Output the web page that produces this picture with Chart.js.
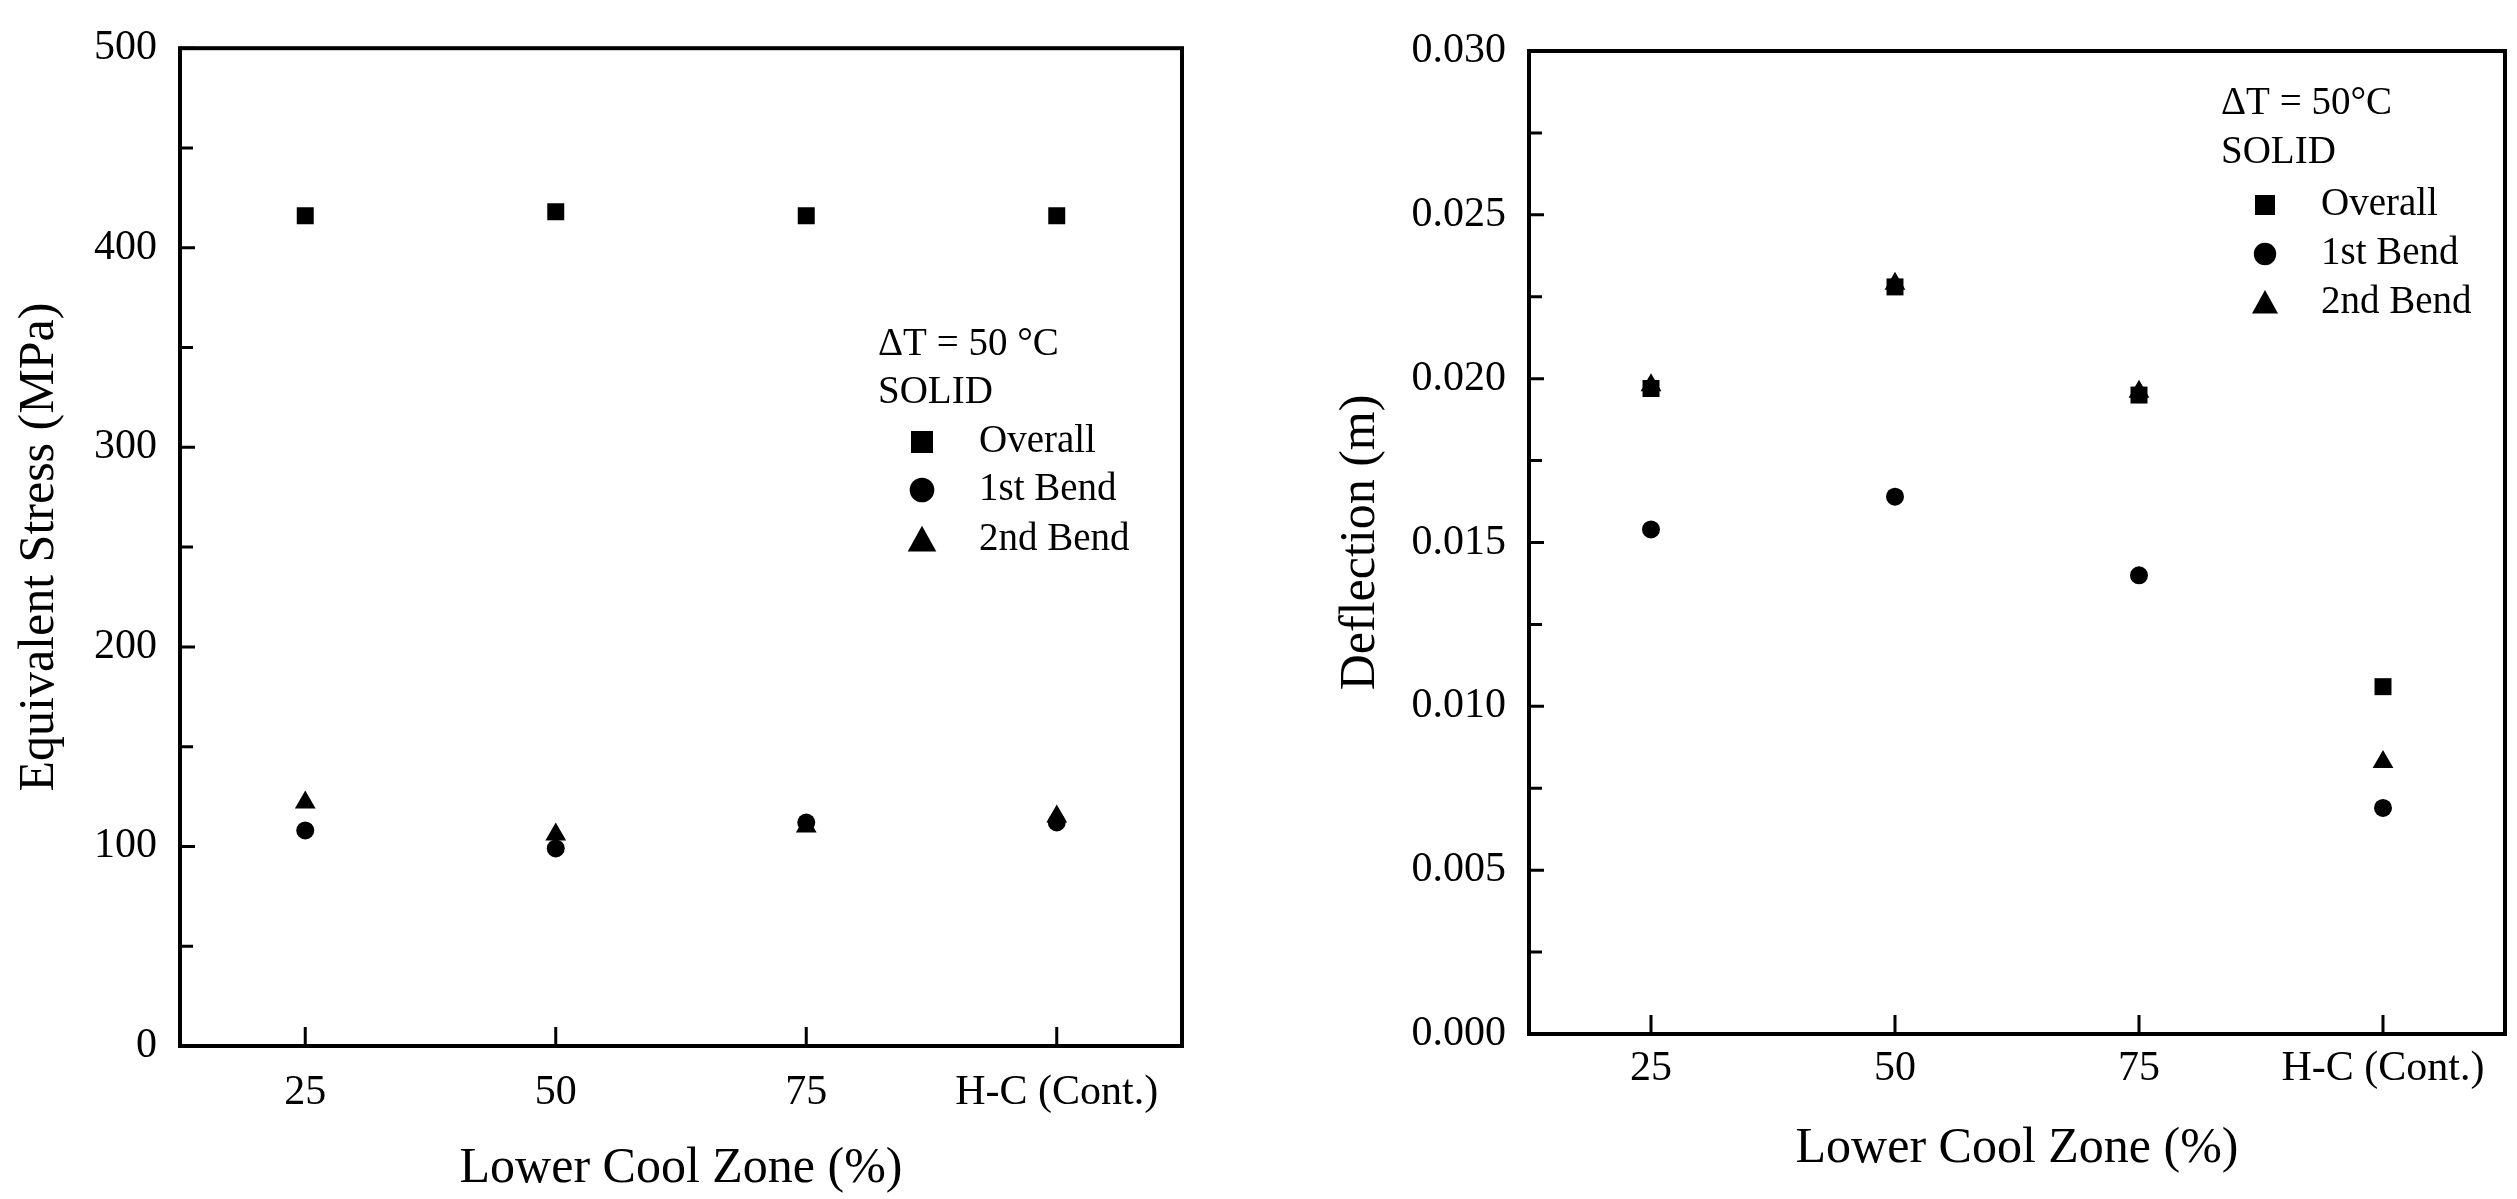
<!DOCTYPE html>
<html>
<head>
<meta charset="utf-8">
<script src="https://cdn.jsdelivr.net/npm/chart.js"></script>
<style>
  html, body { margin: 0; padding: 0; background: #fff; }
  #wrap { position: relative; width: 2517px; height: 1199px; }
  .panel { position: absolute; top: 0; height: 1199px; }
</style>
</head>
<body>
<div id="wrap">
  <div class="panel" style="left:0;width:1260px"><canvas id="stressChart" width="1260" height="1199"></canvas></div>
  <div class="panel" style="left:1260px;width:1257px"><canvas id="deflChart" width="1257" height="1199"></canvas></div>
</div>
<script>
// categories (x axis)
const categories = ['25', '50', '75', 'H-C (Cont.)'];
const seriesNames = ['Overall', '1st Bend', '2nd Bend'];

// equivalent stress (MPa)
const stressOverall = [416, 418, 416, 416];
const stressBend1 = [108, 99, 112, 112];
const stressBend2 = [122, 106, 110, 115];

// deflection (m)
const deflOverall = [0.0197, 0.0228, 0.0195, 0.0106];
const deflBend1 = [0.0154, 0.0164, 0.0140, 0.0069];
const deflBend2 = [0.0198, 0.0229, 0.0196, 0.0083];

// y tick values
const stressTicks = [0, 100, 200, 300, 400, 500];
const deflTicks = [0, 0.005, 0.010, 0.015, 0.020, 0.025, 0.030];

const SERIF = "'Liberation Serif', 'Times New Roman', serif";

// frame + inward ticks (major and minor) drawn from the scales
const framePlugin = {
    id: 'frame',
    afterDraw(chart) {
        const ctx = chart.ctx;
        const a = chart.chartArea;
        const xs = chart.scales.x, ys = chart.scales.y;
        ctx.save();
        ctx.strokeStyle = '#000';
        ctx.lineWidth = 4;
        ctx.strokeRect(a.left, a.top, a.right - a.left, a.bottom - a.top);

        ctx.lineWidth = 3;
        ctx.beginPath();
        // x ticks at each category
        xs.ticks.forEach((t, i) => {
            const px = xs.getPixelForTick(i);
            ctx.moveTo(px, a.bottom);
            ctx.lineTo(px, a.bottom - 19);
        });
        // y ticks, major and half-step minor
        const step = ys.ticks[1].value - ys.ticks[0].value;
        ys.ticks.forEach((t, i) => {
            const py = ys.getPixelForValue(t.value);
            ctx.moveTo(a.left, py);
            ctx.lineTo(a.left + 15, py);
            if (i < ys.ticks.length - 1) {
                const pm = ys.getPixelForValue(t.value + step / 2);
                ctx.moveTo(a.left, pm);
                ctx.lineTo(a.left + 13, pm);
            }
        });
        ctx.stroke();
        ctx.restore();
    }
};

// legend box inside the plot: header lines + symbol rows
const notePlugin = {
    id: 'note',
    afterDraw(chart, args, opts) {
        const ctx = chart.ctx;
        ctx.save();
        ctx.fillStyle = '#000';
        ctx.font = opts.size + 'px ' + SERIF;
        ctx.textBaseline = 'middle';
        ctx.textAlign = 'left';
        opts.header.forEach((txt, i) => {
            ctx.fillText(txt, opts.textX, opts.rows[i]);
        });
        chart.data.datasets.forEach((ds, i) => {
            const y = opts.rows[opts.header.length + i];
            const x = opts.markX;
            const s = opts.mark;
            ctx.beginPath();
            if (ds.pointStyle === 'rect') {
                ctx.rect(x - s / 2, y - s / 2, s, s);
            } else if (ds.pointStyle === 'circle') {
                ctx.arc(x, y, s * 0.56, 0, Math.PI * 2);
            } else {
                const w = s * 1.3;
                ctx.moveTo(x, y - w * 0.5);
                ctx.lineTo(x + w / 2, y + w * 0.4);
                ctx.lineTo(x - w / 2, y + w * 0.4);
                ctx.closePath();
            }
            ctx.fill();
            ctx.fillText(ds.label, opts.labelX, y);
        });
        ctx.restore();
    }
};

function makeDatasets(values) {
    const styles = ['rect', 'circle', 'triangle'];
    const radii = [12, 9, 12];
    return values.map((vals, i) => ({
        label: seriesNames[i],
        data: vals,
        showLine: false,
        pointStyle: styles[i],
        pointRadius: radii[i],
        pointHoverRadius: radii[i],
        pointBackgroundColor: '#000',
        pointBorderColor: '#000',
        pointBorderWidth: 0
    }));
}

function makeChart(id, cfg) {
    const ctx = document.getElementById(id).getContext('2d');
    return new Chart(ctx, {
        type: 'line',
        data: { labels: categories, datasets: makeDatasets(cfg.values) },
        options: {
            responsive: false,
            animation: false,
            devicePixelRatio: 1,
            layout: { padding: { top: cfg.top, right: cfg.right, left: 0, bottom: 0 } },
            scales: {
                x: {
                    type: 'category',
                    offset: true,
                    grid: { display: false, drawTicks: false },
                    border: { display: false },
                    ticks: {
                        color: '#000',
                        font: { family: SERIF, size: 42 },
                        padding: cfg.xTickPad,
                        maxRotation: 0,
                        autoSkip: false
                    },
                    title: {
                        display: true,
                        text: 'Lower Cool Zone (%)',
                        color: '#000',
                        font: { family: SERIF, size: 50 },
                        padding: { top: 0, bottom: cfg.xTitlePad }
                    },
                    afterFit: (s) => { s.height = cfg.xHeight; }
                },
                y: {
                    min: cfg.ticks[0],
                    max: cfg.ticks[cfg.ticks.length - 1],
                    afterBuildTicks: (s) => { s.ticks = cfg.ticks.map(v => ({ value: v })); },
                    grid: { display: false, drawTicks: false },
                    border: { display: false },
                    ticks: {
                        color: '#000',
                        font: { family: SERIF, size: 42 },
                        padding: cfg.yTickPad,
                        callback: cfg.fmt
                    },
                    title: {
                        display: true,
                        text: cfg.yTitle,
                        color: '#000',
                        font: { family: SERIF, size: 50 },
                        padding: { top: cfg.yTitlePad, bottom: 0 }
                    },
                    afterFit: (s) => { s.width = cfg.yWidth; }
                }
            },
            plugins: {
                legend: { display: false },
                tooltip: { enabled: false },
                note: cfg.note
            }
        },
        plugins: [framePlugin, notePlugin]
    });
}

makeChart('stressChart', {
    values: [stressOverall, stressBend1, stressBend2],
    ticks: stressTicks,
    fmt: (v) => String(v),
    yTitle: 'Equivalent Stress (MPa)',
    top: 40, right: 78, xHeight: 153, yWidth: 180,
    xTickPad: 22, yTickPad: 23, xTitlePad: 0, yTitlePad: 10,
    note: {
        header: ['\u0394T = 50 \u00b0C', 'SOLID'],
        rows: [345, 393, 442, 490, 540],
        textX: 878, markX: 922, labelX: 979, size: 39, mark: 22
    }
});

makeChart('deflChart', {
    values: [deflOverall, deflBend1, deflBend2],
    ticks: deflTicks,
    fmt: (v) => Number(v).toFixed(3),
    yTitle: 'Deflection (m)',
    top: 51, right: 9, xHeight: 165, yWidth: 269,
    xTickPad: 10, yTickPad: 23, xTitlePad: 20, yTitlePad: 71,
    note: {
        header: ['\u0394T = 50\u00b0C', 'SOLID'],
        rows: [104, 153, 205, 254, 303],
        textX: 961, markX: 1005, labelX: 1061, size: 39, mark: 20
    }
});
</script>
</body>
</html>
